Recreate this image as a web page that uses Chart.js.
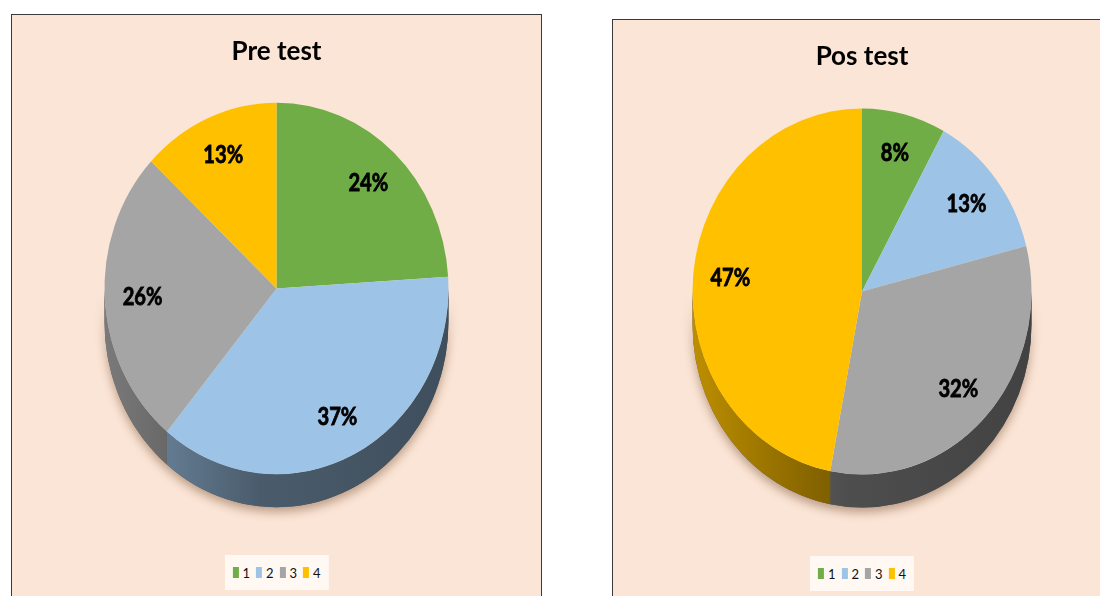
<!DOCTYPE html>
<html>
<head>
<meta charset="utf-8">
<script src="https://cdn.jsdelivr.net/npm/chart.js@4"></script>
<style>
  body{margin:0;width:1100px;height:596px;overflow:hidden;background:#fff;position:relative;}
  .panel{position:absolute;border:1px solid #3a3a3a;background:#FBE5D6;overflow:hidden;}
  #pre-panel{left:11px;top:14px;width:529px;height:600px;}
  #pos-panel{left:612px;top:19px;width:498px;height:600px;}
  .panel canvas{position:absolute;left:0;top:0;}
  .legend{position:absolute;left:50%;transform:translateX(-50%);top:540px;height:35px;padding:0 8px;
    background:#FFF8F3;display:flex;align-items:center;font-family:Lato,"Open Sans",sans-serif;font-size:13px;color:#111;}
  .legend span.item{display:flex;align-items:center;margin-right:6px;}
  .legend span.item:last-child{margin-right:0;}
  .legend i{display:inline-block;width:6px;height:11px;margin-right:4px;}
</style>
</head>
<body>
<div class="panel" id="pre-panel">
  <canvas id="pre-chart" width="529" height="581"></canvas>
  <div class="legend" id="pre-legend"></div>
</div>
<div class="panel" id="pos-panel">
  <canvas id="pos-chart" width="498" height="576"></canvas>
  <div class="legend" id="pos-legend" style="top:536px"></div>
</div>
<script>
//DATA
const categories = ['1', '2', '3', '4'];
const preValues = [24, 37, 26, 13];
const posValues = [8, 13, 32, 47];
const sliceColors = ['#70AD47', '#9DC3E6', '#A5A5A5', '#FFC000'];

const labelFont = 'Lato, "Open Sans", sans-serif';

function shade(hex, f){
    let n = parseInt(hex.slice(1), 16);
    let r = Math.round(((n >> 16) & 255) * f);
    let g = Math.round(((n >> 8) & 255) * f);
    let b = Math.round((n & 255) * f);
    return `rgb(${r},${g},${b})`;
}

//tilted pie: stretch a bit vertically and draw the side wall under the slices
const pie3d = {
    id: 'pie3d',
    beforeDatasetsDraw(chart, args, opts){
        let ctx = chart.ctx;
        let arcs = chart.getDatasetMeta(0).data;
        let colors = chart.data.datasets[0].backgroundColor;
        let d = opts.depth;
        if(!arcs.length) return;
        let {x, y, outerRadius} = arcs[0].getProps(['x', 'y', 'outerRadius'], true);

        ctx.save();
        ctx.translate(x, y);
        ctx.scale(1, opts.stretch);
        ctx.translate(-x, -y);

        //soft shadow under the whole pie
        ctx.save();
        ctx.shadowColor = 'rgba(110,70,40,0.45)';
        ctx.shadowBlur = 10;
        ctx.shadowOffsetY = 5;
        ctx.fillStyle = '#555';
        ctx.beginPath();
        ctx.arc(x, y, outerRadius, 0, Math.PI);
        ctx.arc(x, y + d, outerRadius, Math.PI, 0, true);
        ctx.closePath();
        ctx.fill();
        ctx.restore();

        arcs.forEach((arc, i) => {
            let p = arc.getProps(['startAngle', 'endAngle'], true);
            let s = Math.max(p.startAngle, 0);
            let e = Math.min(p.endAngle, Math.PI);
            if(e <= s) return;
            let grad = ctx.createLinearGradient(x - outerRadius, 0, x + outerRadius, 0);
            grad.addColorStop(0, shade(colors[i], 0.74));
            grad.addColorStop(0.45, shade(colors[i], 0.47));
            grad.addColorStop(1, shade(colors[i], 0.4));
            ctx.fillStyle = grad;
            ctx.beginPath();
            ctx.arc(x, y, outerRadius, s, e);
            ctx.arc(x, y + d, outerRadius, e, s, true);
            ctx.closePath();
            ctx.fill();
        });
        //transform stays on while the slices are drawn
    },
    afterDatasetsDraw(chart, args, opts){
        let ctx = chart.ctx;
        ctx.restore();

        //percent labels
        let values = chart.data.datasets[0].data;
        ctx.save();
        ctx.font = `bold ${opts.labelSize}px ${labelFont}`;
        ctx.fillStyle = '#000';
        ctx.strokeStyle = '#000';
        ctx.lineWidth = 0.8;
        ctx.textAlign = 'center';
        ctx.textBaseline = 'middle';
        chart.getDatasetMeta(0).data.forEach((arc, i) => {
            let p = arc.getProps(['x', 'y', 'startAngle', 'endAngle', 'outerRadius'], true);
            let mid = (p.startAngle + p.endAngle) / 2;
            let rr = p.outerRadius * opts.labelDist;
            let lx = p.x + Math.cos(mid) * rr;
            let ly = p.y + Math.sin(mid) * rr * opts.stretch;
            ctx.save();
            ctx.translate(lx, ly);
            ctx.scale(0.84, 1);
            ctx.fillText(`${values[i]}%`, 0, 0);
            ctx.strokeText(`${values[i]}%`, 0, 0);
            ctx.restore();
        });
        ctx.restore();
    }
};

function buildLegend(el){
    el.innerHTML = '';
    categories.forEach((cat, i) => {
        let item = document.createElement('span');
        item.className = 'item';
        item.innerHTML = `<i style="background:${sliceColors[i]}"></i>${cat}`;
        el.appendChild(item);
    });
}

function drawPie(canvasId, title, values, titleTop, titleBottom, padBottom){
    let config = {
        type: 'pie',
        data: {
            labels: categories,
            datasets: [{
                data: values,
                backgroundColor: sliceColors,
                borderWidth: 0
            }]
        },
        options: {
            responsive: false,
            animation: false,
            layout: {
                padding: {bottom: padBottom}
            },
            plugins: {
                legend: {display: false},
                tooltip: {enabled: false},
                title: {
                    display: true,
                    text: title,
                    color: '#000',
                    font: {family: labelFont, size: 26, weight: 'bold', lineHeight: 1.2},
                    padding: {top: titleTop, bottom: titleBottom}
                },
                pie3d: {depth: 30.5, stretch: 1.08, labelSize: 24, labelDist: 0.78}
            }
        },
        plugins: [pie3d]
    };

    new Chart(document.querySelector(canvasId), config);
}

//FUNCTION EXECUTION
drawPie('#pre-chart', 'Pre test', preValues, 21.5, 48.8, 135.5);
drawPie('#pos-chart', 'Pos test', posValues, 21, 49.8, 135);
buildLegend(document.querySelector('#pre-legend'));
buildLegend(document.querySelector('#pos-legend'));
</script>
</body>
</html>
